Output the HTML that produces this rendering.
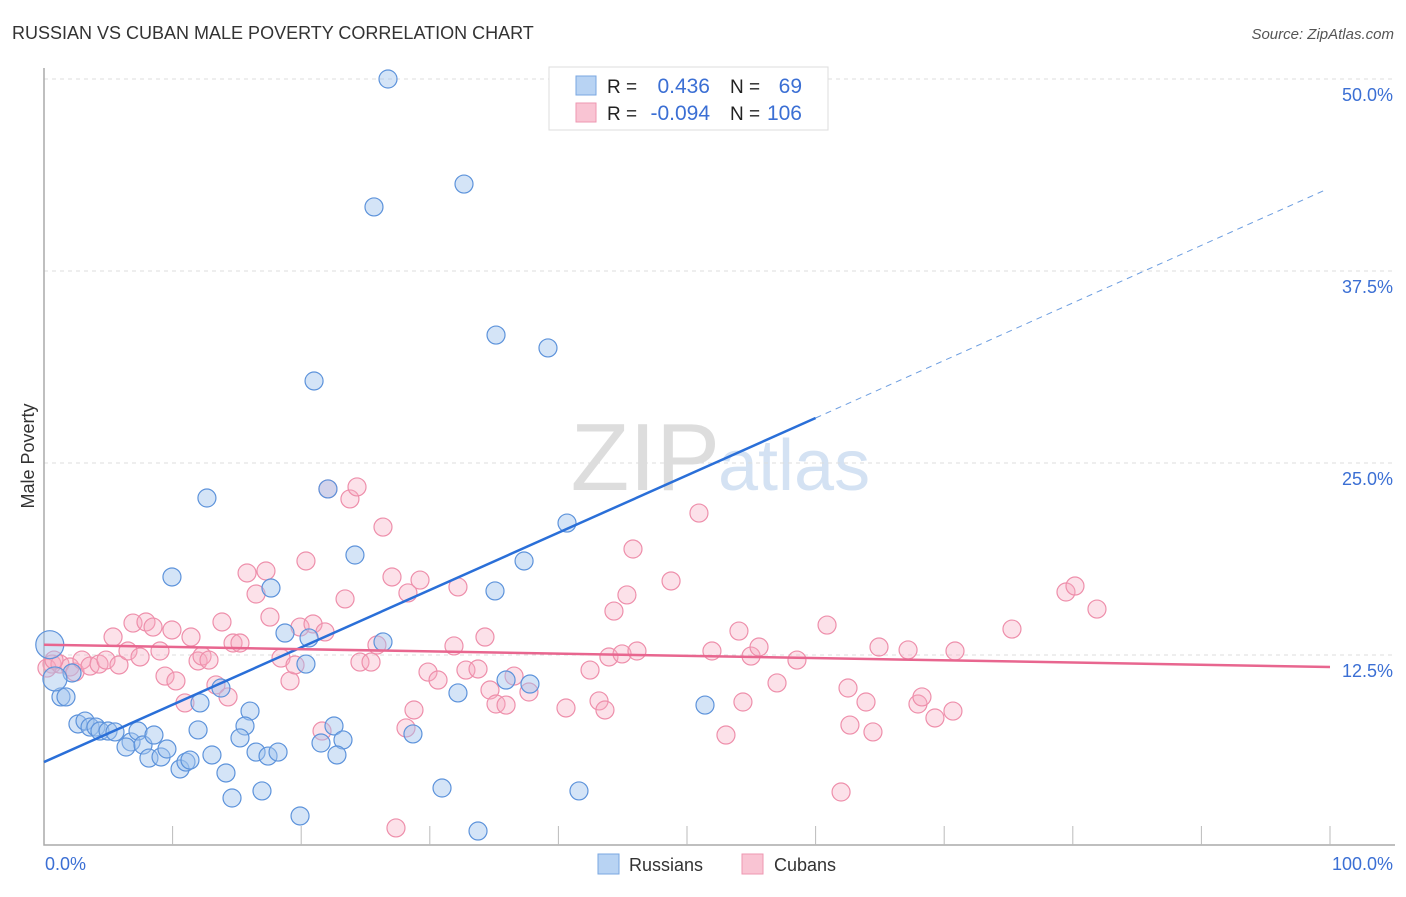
<!DOCTYPE html>
<html><head><meta charset="utf-8"><style>
body{margin:0;background:#fff;font-family:"Liberation Sans",sans-serif;}
svg text{font-family:"Liberation Sans",sans-serif;}
</style></head><body>
<svg id="c" width="1406" height="892" xmlns="http://www.w3.org/2000/svg">
<text x="12" y="39" font-size="18" fill="#333">RUSSIAN VS CUBAN MALE POVERTY CORRELATION CHART</text>
<text x="1394" y="39" font-size="15" fill="#555" font-style="italic" text-anchor="end">Source: ZipAtlas.com</text>
<text x="720" y="490" font-size="96" fill="#ddd" text-anchor="end" font-family="Liberation Serif">ZIP</text>
<text x="718" y="490" font-size="72" fill="#d4e2f3">atlas</text>
<g id="grid"></g><g id="axes"></g><g id="pts"></g><g id="lines"></g>
<text transform="translate(34,456) rotate(-90)" font-size="18" fill="#333" text-anchor="middle">Male Poverty</text>
<text x="45" y="870" font-size="18" fill="#3b6fd4">0.0%</text>
<text x="1393" y="870" font-size="18" fill="#3b6fd4" text-anchor="end">100.0%</text>
<g>
<rect x="549" y="67" width="279" height="63" fill="#fff" stroke="#ddd"/>
<rect x="576" y="76" width="20" height="19" fill="#b8d3f3" stroke="#7aa7e0"/>
<rect x="576" y="103" width="20" height="19" fill="#f9c4d3" stroke="#ee97b1"/>
<text x="607" y="93" font-size="19" fill="#222">R =</text><text x="710" y="93" font-size="21" fill="#3b6fd4" text-anchor="end">0.436</text>
<text x="730" y="93" font-size="19" fill="#222">N =</text><text x="802" y="93" font-size="21" fill="#3b6fd4" text-anchor="end">69</text>
<text x="607" y="120" font-size="19" fill="#222">R =</text><text x="710" y="120" font-size="21" fill="#3b6fd4" text-anchor="end">-0.094</text>
<text x="730" y="120" font-size="19" fill="#222">N =</text><text x="802" y="120" font-size="21" fill="#3b6fd4" text-anchor="end">106</text>
</g>
<g>
<rect x="598" y="854" width="21" height="20" fill="#b8d3f3" stroke="#7aa7e0"/>
<text x="629" y="871" font-size="18" fill="#333">Russians</text>
<rect x="742" y="854" width="21" height="20" fill="#f9c4d3" stroke="#ee97b1"/>
<text x="774" y="871" font-size="18" fill="#333">Cubans</text>
</g>
</svg>
<script>
const yTicks=[12.5,25,37.5,50];
const yTickLabels=["12.5%","25.0%","37.5%","50.0%"];
const bluePx=[[388,79],[464,184],[374,207],[496,335],[548,348],[314,381],[207,498],[328,489],[567,523],[355,555],[524,561],[172,577],[271,588],[495,591],[285,633],[309,638],[383,642],[306,664],[72,673],[61,697],[66,697],[506,680],[530,684],[458,693],[221,688],[200,703],[705,705],[78,724],[85,721],[90,727],[96,727],[100,731],[108,731],[115,732],[131,742],[126,747],[138,731],[143,745],[154,735],[149,758],[161,757],[167,749],[180,769],[186,762],[190,760],[198,730],[212,755],[226,773],[232,798],[250,711],[245,726],[240,738],[256,752],[268,756],[278,752],[262,791],[300,816],[321,743],[334,726],[343,740],[337,755],[413,734],[442,788],[478,831],[579,791]];
const pinkPx=[[52,664],[47,668],[60,664],[70,667],[75,672],[82,660],[90,666],[99,664],[106,660],[113,637],[119,665],[128,651],[133,623],[140,657],[146,622],[153,627],[160,651],[165,676],[172,630],[176,681],[185,703],[191,637],[198,661],[202,656],[209,660],[216,685],[222,622],[228,697],[233,643],[240,643],[247,573],[256,594],[266,571],[270,617],[290,681],[281,658],[295,665],[300,627],[306,561],[313,624],[322,731],[325,632],[328,489],[345,599],[350,499],[357,487],[360,662],[371,662],[377,645],[383,527],[392,577],[408,593],[420,580],[396,828],[406,728],[414,710],[428,672],[438,680],[454,646],[458,587],[466,670],[478,669],[485,637],[490,690],[496,704],[506,705],[514,676],[529,692],[566,708],[590,670],[599,701],[605,710],[614,611],[609,657],[622,654],[627,595],[633,549],[637,651],[671,581],[699,513],[712,651],[726,735],[739,631],[743,702],[751,656],[759,647],[777,683],[797,660],[827,625],[841,792],[848,688],[850,725],[866,702],[873,732],[879,647],[908,650],[918,704],[922,697],[935,718],[953,711],[955,651],[1012,629],[1066,592],[1075,586],[1097,609],[54,660]];
// convert read pixel positions into data values (x %, y %)
const toX=p=>+((p-44)/12.86).toFixed(2), toY=p=>+((847-p)/15.36).toFixed(2);
const russiansX=bluePx.map(p=>toX(p[0])), russiansY=bluePx.map(p=>toY(p[1]));
const cubansX=pinkPx.map(p=>toX(p[0])), cubansY=pinkPx.map(p=>toY(p[1]));
const bigRussiansX=[0.45,0.85], bigRussiansY=[13.17,10.94], bigRussiansR=[14,12];
const blueTrend=[[0,5.53],[60,27.93],[99.7,42.8]];
const pinkTrend=[[0,13.17],[100,11.72]];
const X=v=>44+v*12.86, Y=v=>847-v*15.36;
const NS="http://www.w3.org/2000/svg";
function mk(t,a,parent){const e=document.createElementNS(NS,t);for(const k in a)e.setAttribute(k,a[k]);document.getElementById(parent).appendChild(e);return e;}
yTicks.forEach((t,i)=>{
 const l=mk('line',{x1:44,x2:1395,y1:Y(t),y2:Y(t),stroke:'#ddd','stroke-dasharray':'4,4'},'grid');
 
 
 const tx=mk('text',{x:1393,y:Y(t)+22,'font-size':18,fill:'#3b6fd4','text-anchor':'end'},'grid');
 tx.textContent=yTickLabels[i];
 
 
});
const ax=mk('path',{d:'M44,68V845H1395',fill:'none',stroke:'#aaa','stroke-width':1.5},'axes');


for(let i=1;i<=10;i++){const t=mk('line',{x1:X(i*10),x2:X(i*10),y1:826,y2:845,stroke:'#bbb'},'axes');
 
 }
function dot(x,y,r,fill,stroke,name){const c=mk('circle',{cx:X(x),cy:Y(y),r:r,fill:fill,stroke:stroke,'stroke-width':1.2},'pts');
 
 }
cubansX.forEach((x,i)=>dot(x,cubansY[i],9,'rgba(246,170,192,0.35)','#ee8fab','cubans-point'));
russiansX.forEach((x,i)=>dot(x,russiansY[i],9,'rgba(160,196,238,0.45)','#5d93db','russians-point'));
bigRussiansX.forEach((x,i)=>dot(x,bigRussiansY[i],bigRussiansR[i],'rgba(160,196,238,0.45)','#5d93db','russians-point'));
const b1=mk('line',{x1:X(blueTrend[0][0]),y1:Y(blueTrend[0][1]),x2:X(blueTrend[1][0]),y2:Y(blueTrend[1][1]),stroke:'#2a6fd8','stroke-width':2.5},'lines');


const b2=mk('line',{x1:X(blueTrend[1][0]),y1:Y(blueTrend[1][1]),x2:X(blueTrend[2][0]),y2:Y(blueTrend[2][1]),stroke:'#6d9ee0','stroke-width':1,'stroke-dasharray':'6,5'},'lines');


const p1=mk('line',{x1:X(pinkTrend[0][0]),y1:Y(pinkTrend[0][1]),x2:X(pinkTrend[1][0]),y2:Y(pinkTrend[1][1]),stroke:'#e8668f','stroke-width':2.5},'lines');


</script>
</body></html>
